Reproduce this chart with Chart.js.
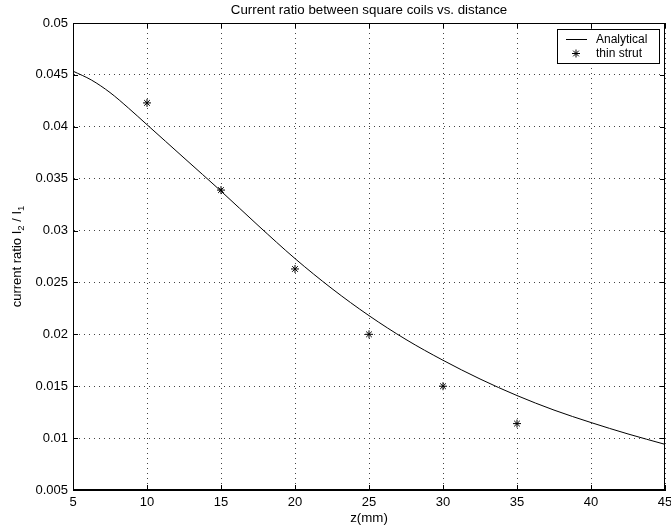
<!DOCTYPE html>
<html>
<head>
<meta charset="utf-8">
<script src="https://cdn.jsdelivr.net/npm/chart.js@4"></script>
<style>
  html,body{margin:0;padding:0;background:#fff}
  #wrap{width:671px;height:529px}
</style>
</head>
<body>
<div id="wrap"><canvas id="ratioChart" width="671" height="529"></canvas></div>
<script>
// analytical curve (denser sampling where it bends near the start)
const zCurve = [5, 6.25, 7.5, 8.75, 10, 11.25, 12.5, 15, 17.5, 20, 22.5, 25, 27.5, 30, 32.5, 35, 37.5, 40, 42.5, 45];
const ratioCurve = [0.04536, 0.0445, 0.0433, 0.0418, 0.0402, 0.0386, 0.0370, 0.0338, 0.0305, 0.0273, 0.0244, 0.0218, 0.0195, 0.0175, 0.0157, 0.0141, 0.0127, 0.0115, 0.0104, 0.0094];

// thin strut measurements
const zStrut = [10, 15, 20, 25, 30, 35];
const ratioStrut = [0.0423, 0.0339, 0.0263, 0.0200, 0.0150, 0.0114];

const xTicks = [5, 10, 15, 20, 25, 30, 35, 40, 45];
const yTicks = [0.005, 0.01, 0.015, 0.02, 0.025, 0.03, 0.035, 0.04, 0.045, 0.05];

const FONT = '"Liberation Sans", Arial, Helvetica, sans-serif';

// matlab style box: top/right border, inward ticks, title, labels, legend
const boxPlugin = {
  id: 'box',
  afterDraw(chart){
    const {ctx, chartArea:a, scales:{x, y}} = chart;
    ctx.save();
    ctx.strokeStyle = '#000'; ctx.lineWidth = 1;
    ctx.strokeRect(a.left+0.5, a.top+0.5, a.right-a.left-1, a.bottom-a.top-1);

    const tl = 5;
    ctx.beginPath();
    xTicks.forEach(v=>{
      const px = Math.round(x.getPixelForValue(v))+0.5;
      ctx.moveTo(px, a.bottom); ctx.lineTo(px, a.bottom-tl);
      ctx.moveTo(px, a.top); ctx.lineTo(px, a.top+tl);
    });
    yTicks.forEach(v=>{
      const py = Math.round(y.getPixelForValue(v))+0.5;
      ctx.moveTo(a.left, py); ctx.lineTo(a.left+tl, py);
      ctx.moveTo(a.right, py); ctx.lineTo(a.right-tl, py);
    });
    ctx.stroke();

    ctx.fillStyle = '#000';
    const cx = (a.left+a.right)/2;
    ctx.font = '13.3px '+FONT;
    ctx.textAlign = 'center'; ctx.textBaseline = 'middle';
    ctx.fillText('Current ratio between square coils vs. distance', cx, 10);
    ctx.fillText('z(mm)', cx, 518);

    // y label with subscripts, rotated
    ctx.save();
    ctx.translate(17, (a.top+a.bottom)/2);
    ctx.rotate(-Math.PI/2);
    const parts = [['current ratio I',0],['2',1],[' / I',0],['1',1]];
    const fontOf = sub => (sub ? '9.5px ' : '13px ')+FONT;
    let total = 0;
    parts.forEach(([t,s])=>{ ctx.font = fontOf(s); total += ctx.measureText(t).width; });
    let px = -total/2;
    ctx.textAlign = 'left';
    parts.forEach(([t,s])=>{
      ctx.font = fontOf(s);
      ctx.fillText(t, px, s ? 4 : 0);
      px += ctx.measureText(t).width;
    });
    ctx.restore();

    // legend
    const lx = 557.5, ly = 29.5, lw = 102, lh = 34;
    ctx.fillStyle = '#fff';
    ctx.fillRect(lx, ly, lw, lh);
    ctx.strokeRect(lx, ly, lw, lh);
    ctx.beginPath(); ctx.moveTo(566, 39.5); ctx.lineTo(587, 39.5); ctx.stroke();
    Chart.helpers.drawPoint(ctx, {pointStyle:'star', radius:4, borderWidth:1, rotation:0}, 576, 53.5);
    ctx.fillStyle = '#000';
    ctx.font = '12px '+FONT;
    ctx.textAlign = 'left';
    ctx.fillText('Analytical', 596, 39.5);
    ctx.fillText('thin strut', 596, 53.5);
    ctx.restore();
  }
};

const gridOpts = {color:'#444', lineWidth:1, drawTicks:false};

new Chart(document.getElementById('ratioChart'), {
  type: 'line',
  data: {
    datasets: [
      {label:'Analytical', data: zCurve.map((z,i)=>({x:z, y:ratioCurve[i]})),
       borderColor:'#000', borderWidth:1, pointRadius:0, cubicInterpolationMode:'monotone', fill:false},
      {label:'thin strut', data: zStrut.map((z,i)=>({x:z, y:ratioStrut[i]})),
       showLine:false, pointStyle:'star', pointRadius:4, borderColor:'#000', borderWidth:1, backgroundColor:'#000'}
    ]
  },
  options: {
    responsive:false, animation:false, devicePixelRatio:1,
    layout:{padding:{top:23, right:6, left:0, bottom:0}},
    plugins:{legend:{display:false}, title:{display:false}, tooltip:{enabled:false}},
    scales:{
      x:{type:'linear', min:5, max:45,
         afterBuildTicks: s => { s.ticks = xTicks.map(v=>({value:v})); },
         afterFit: s => { s.height = 39; s.paddingLeft = 0; s.paddingRight = 0; },
         grid:{...gridOpts}, border:{display:true, color:'#000', dash:[1,4]},
         ticks:{color:'#000', padding:5, maxRotation:0, font:{family:FONT, size:13}}},
      y:{type:'linear', min:0.005, max:0.05,
         afterBuildTicks: s => { s.ticks = yTicks.map(v=>({value:v})); },
         afterFit: s => { s.width = 73; s.paddingTop = 0; s.paddingBottom = 0; },
         grid:{...gridOpts}, border:{display:true, color:'#000', dash:[1,4]},
         ticks:{color:'#000', padding:5, font:{family:FONT, size:13},
                callback: v => String(+v.toFixed(3))}}
    }
  },
  plugins:[boxPlugin]
});
</script>
</body>
</html>
